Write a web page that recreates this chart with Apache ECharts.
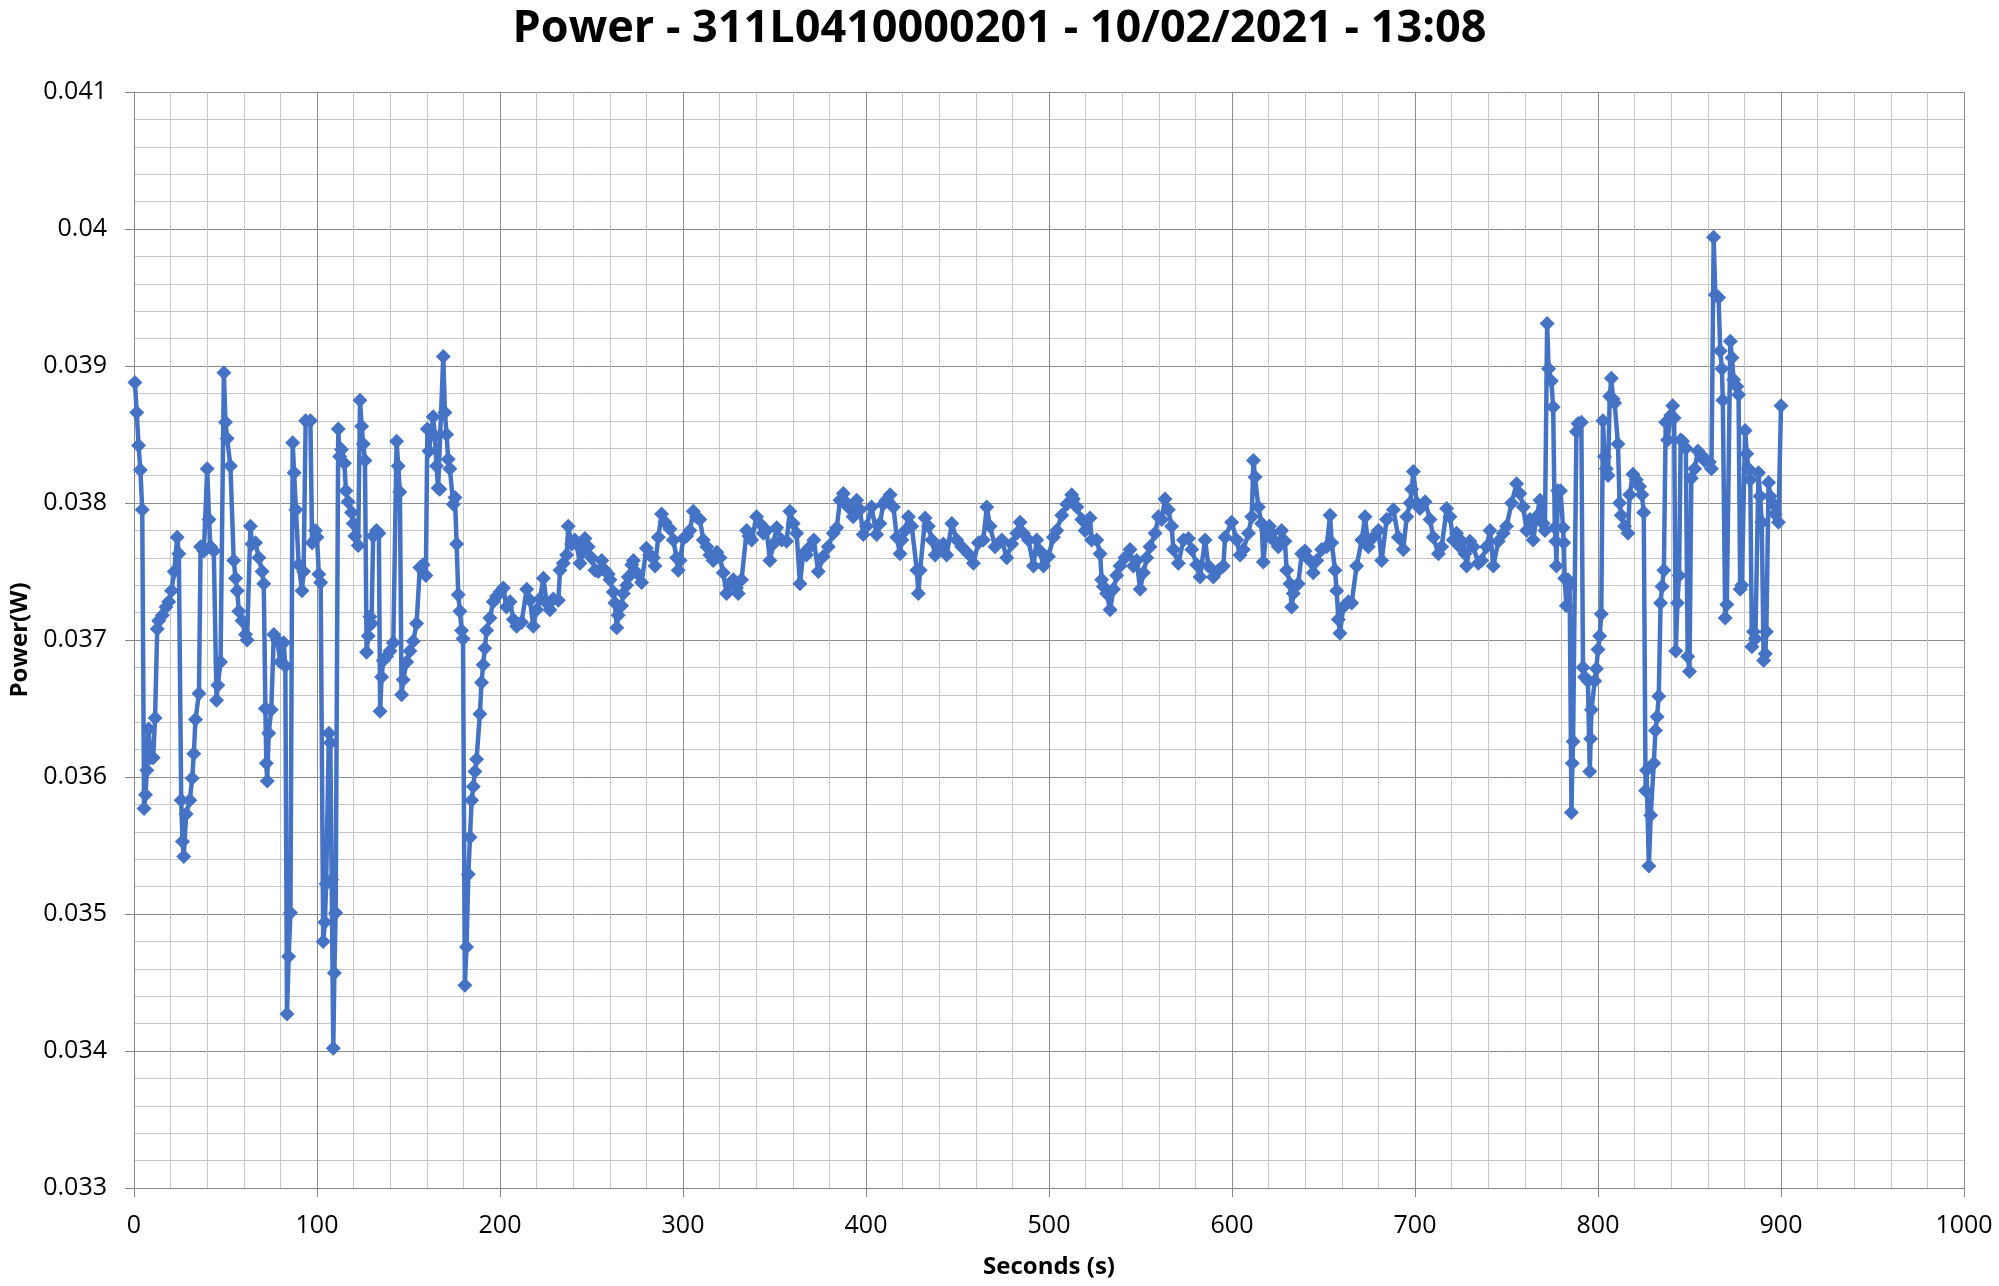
<!DOCTYPE html>
<html><head><meta charset="utf-8">
<script src="https://cdn.jsdelivr.net/npm/echarts@6/dist/echarts.min.js"></script>
<style>html,body{margin:0;padding:0;background:#fff}#c{width:1999px;height:1286px}</style>
</head><body><div id="c"></div>
<script>
const titleText = 'Power - 311L0410000201 - 10/02/2021 - 13:08';
const xAxisName = 'Seconds (s)';
const yAxisName = 'Power(W)';
const xRange = { min: 0, max: 1000, step: 100 };
const yRange = { min: 0.033, max: 0.041, step: 0.001 };

const seconds = [
0.5,1.5,2.5,3.5,4.5,5.5,6.3,7.0,8.0,9.0,10.5,11.5,12.7,13.5,15.5,17.5,19.0,20.5,22.0,23.6,24.5,25.8,26.5,27.2,28.5,30.5,31.8,32.7,33.6,35.5,36.4,38.2,40.0,41.0,41.8,43.6,45.1,45.8,47.3,49.1,50.0,50.9,52.7,54.5,55.5,56.4,57.3,59.1,60.9,61.8,63.6,64.5,66.4,68.2,70.0,70.9,71.8,72.3,72.8,73.6,75.0,76.4,78.2,80.0,81.8,82.7,83.6,84.5,85.5,86.7,87.5,88.5,90.0,91.8,92.7,93.8,96.4,97.3,99.1,100.0,101.0,102.0,
103.4,104.3,105.0,106.5,107.3,108.0,108.9,109.5,110.2,111.6,112.4,113.4,115.0,115.8,117.0,118.9,119.8,120.7,122.5,123.5,124.4,125.3,126.2,127.1,128.0,128.9,129.8,130.7,132.5,133.8,134.5,135.3,136.2,138.0,139.9,141.7,143.5,144.4,145.3,146.2,147.1,149.0,150.8,152.6,154.4,156.2,158.0,159.5,160.3,161.2,163.5,164.4,165.3,166.2,167.1,169.0,169.9,170.8,171.7,172.6,174.5,175.4,176.3,177.2,178.1,179.0,179.8,180.8,181.7,182.7,183.6,184.5,185.4,186.3,187.2,189.0,189.9,190.8,191.7,192.7,194.5,196.3,198.2,
200.0,201.8,203.6,205.5,207.3,209.1,211.8,214.6,216.4,218.2,220.0,221.8,223.7,225.5,227.3,229.1,231.9,232.8,234.6,236.4,237.3,239.1,240.9,241.8,243.7,245.5,246.4,248.2,250.0,251.9,253.7,255.6,257.4,259.2,260.1,261.9,262.8,263.8,264.6,266.4,267.4,269.2,270.1,272.0,272.9,274.7,277.4,280.0,281.8,283.8,284.7,286.5,288.3,290.2,292.9,294.7,296.5,297.4,298.4,300.2,302.0,303.8,
305.6,307.4,309.2,311.1,313.0,314.7,316.5,318.5,320.2,322.0,323.8,325.6,327.5,329.2,330.2,332.0,334.8,336.0,337.5,340.2,342.0,343.9,345.7,347.5,349.3,351.2,353.9,356.6,358.4,360.2,362.1,363.9,365.7,367.5,369.4,371.5,373.9,376.6,379.4,382.1,384.0,385.8,387.6,389.4,390.3,393.0,394.9,396.7,398.5,400.3,403.0,405.8,407.6,409.4,411.0,413.2,
415.0,416.8,418.6,419.6,421.4,423.2,425.0,427.8,428.6,429.6,432.3,434.1,436.0,437.8,440.5,442.3,444.1,446.9,449.6,452.3,455.9,458.7,461.4,464.1,466.0,467.8,470.5,474.2,476.9,479.6,482.4,484.2,486.0,488.8,491.5,493.3,495.1,497.0,499.7,502.4,504.2,507.0,509.7,512.4,513.3,515.2,
517.9,519.7,522.4,523.3,526.1,527.9,528.8,529.7,531.5,533.4,535.2,537.0,538.8,541.5,544.3,546.1,547.9,549.8,551.6,553.4,555.2,558.0,559.8,561.6,563.4,565.2,567.0,568.0,570.7,573.5,576.2,578.0,580.7,582.5,585.3,587.1,589.8,592.6,595.3,596.2,599.8,602.6,604.4,606.2,609.0,610.8,611.7,612.6,614.4,616.2,617.1,618.9,
620.5,621.7,622.6,625.3,627.1,628.9,629.9,631.7,632.6,633.5,636.2,638.1,639.9,642.6,644.4,646.3,649.0,651.7,653.6,654.5,656.3,657.2,658.1,659.0,660.8,663.6,665.4,668.1,670.9,672.7,674.5,677.2,680.0,681.8,684.5,688.2,690.9,693.6,695.5,697.3,698.2,699.1,700.9,702.7,705.5,708.2,710.0,712.8,714.6,717.3,719.1,720.9,722.7,
724.5,725.5,727.3,728.2,730.0,731.9,734.6,736.4,739.1,741.0,742.8,745.5,748.2,750.0,752.8,755.5,757.3,759.2,761.0,762.8,764.6,766.4,768.3,770.0,771.0,772.2,773.0,774.5,775.5,776.4,776.9,777.3,778.0,779.5,780.9,781.3,781.8,782.7,783.6,784.5,785.5,786.0,786.4,788.2,789.1,790.9,791.8,792.7,794.5,795.5,796.0,796.4,798.2,799.1,800.0,800.9,801.8,802.7,803.6,804.5,805.5,806.4,807.3,808.2,809.1,810.9,811.8,812.7,814.5,816.4,817.3,819.1,820.9,822.7,824.0,825.0,826.0,826.5,827.8,828.8,830.5,831.4,832.3,833.2,834.2,835.0,836.0,837.0,838.0,839.8,840.8,841.6,842.5,843.4,844.3,845.2,846.2,848.0,849.0,850.0,851.0,852.8,854.6,856.4,858.2,860.9,862.0,863.2,864.1,865.9,866.8,867.7,868.2,869.5,870.4,872.3,873.2,874.1,875.9,876.8,877.7,878.6,880.4,881.3,882.2,883.2,884.1,885.0,886.0,887.7,888.6,889.5,890.5,891.4,892.0,893.2,894.1,895.9,896.8,898.6,900.0
];

// power readings in milliwatts (converted to W for the axis)
const powerMilliwatt = [
38.88,38.66,38.42,38.24,37.95,35.77,35.87,36.05,36.35,36.14,36.14,36.43,37.08,37.14,37.18,37.24,37.28,37.36,37.50,37.75,37.63,35.83,35.53,35.42,35.73,35.83,35.99,36.17,36.42,36.61,37.68,37.65,38.25,37.88,37.68,37.65,36.56,36.67,36.84,38.95,38.59,38.47,38.27,37.58,37.45,37.36,37.21,37.14,37.04,37.00,37.83,37.70,37.71,37.60,37.50,37.41,36.50,36.10,35.97,36.32,36.49,37.04,37.00,36.84,36.98,36.81,34.27,34.69,35.01,38.44,38.22,37.95,37.55,37.36,37.50,38.60,38.60,37.71,37.80,37.75,37.48,37.42,
34.80,34.94,35.22,36.32,36.25,35.25,34.02,34.57,35.01,38.54,38.34,38.39,38.29,38.09,38.01,37.93,37.85,37.76,37.69,38.75,38.56,38.43,38.31,36.91,37.03,37.17,37.12,37.76,37.80,37.78,36.48,36.73,36.85,36.88,36.92,36.98,38.45,38.27,38.08,36.60,36.71,36.84,36.92,36.99,37.12,37.53,37.55,37.47,38.54,38.38,38.63,38.49,38.27,38.11,38.10,39.07,38.66,38.50,38.32,38.25,37.99,38.04,37.70,37.33,37.21,37.07,37.01,34.48,34.76,35.29,35.56,35.83,35.93,36.04,36.13,36.46,36.69,36.82,36.94,37.07,37.16,37.28,37.32,
37.35,37.38,37.24,37.28,37.15,37.10,37.13,37.37,37.29,37.10,37.22,37.30,37.45,37.27,37.22,37.30,37.29,37.51,37.56,37.62,37.83,37.70,37.73,37.70,37.56,37.65,37.74,37.68,37.60,37.51,37.50,37.58,37.51,37.48,37.44,37.35,37.27,37.09,37.18,37.25,37.34,37.40,37.46,37.55,37.58,37.49,37.42,37.67,37.62,37.60,37.54,37.75,37.92,37.86,37.81,37.73,37.60,37.51,37.58,37.74,37.76,37.80,
37.94,37.90,37.88,37.73,37.68,37.62,37.58,37.64,37.60,37.49,37.34,37.40,37.44,37.38,37.34,37.44,37.80,37.76,37.73,37.90,37.85,37.78,37.80,37.58,37.70,37.82,37.73,37.72,37.94,37.85,37.78,37.41,37.63,37.62,37.68,37.73,37.50,37.61,37.68,37.78,37.82,38.02,38.07,38.00,37.97,37.90,38.02,37.95,37.77,37.83,37.97,37.77,37.85,37.99,38.02,38.06,
37.97,37.75,37.63,37.73,37.80,37.90,37.83,37.51,37.34,37.51,37.89,37.83,37.73,37.62,37.68,37.70,37.62,37.85,37.73,37.68,37.63,37.56,37.71,37.73,37.97,37.83,37.68,37.73,37.60,37.70,37.78,37.86,37.78,37.73,37.54,37.73,37.65,37.54,37.61,37.75,37.80,37.91,37.99,38.06,38.03,37.97,
37.88,37.80,37.89,37.73,37.73,37.63,37.44,37.39,37.34,37.22,37.37,37.47,37.54,37.60,37.66,37.54,37.58,37.37,37.49,37.60,37.68,37.78,37.90,37.88,38.03,37.95,37.83,37.66,37.56,37.73,37.74,37.66,37.55,37.46,37.73,37.54,37.46,37.51,37.54,37.75,37.86,37.73,37.62,37.66,37.78,37.90,38.31,38.19,37.97,37.85,37.57,37.80,
37.83,37.78,37.73,37.68,37.80,37.72,37.51,37.41,37.24,37.34,37.41,37.63,37.65,37.58,37.49,37.58,37.66,37.68,37.91,37.71,37.51,37.36,37.15,37.05,37.24,37.28,37.27,37.54,37.73,37.90,37.68,37.75,37.80,37.58,37.88,37.95,37.75,37.66,37.90,38.00,38.10,38.23,38.00,37.96,38.01,37.88,37.75,37.63,37.68,37.96,37.90,37.73,37.78,
37.68,37.72,37.63,37.54,37.72,37.68,37.56,37.58,37.68,37.80,37.54,37.72,37.78,37.83,38.00,38.14,38.07,37.97,37.80,37.88,37.73,37.90,38.02,37.85,37.80,39.31,38.98,38.89,38.70,37.82,37.72,37.54,38.09,38.09,37.82,37.71,37.45,37.25,37.44,37.40,35.74,36.10,36.26,38.52,38.58,38.59,36.80,36.73,36.70,36.04,36.28,36.49,36.70,36.79,36.93,37.03,37.19,38.60,38.34,38.25,38.20,38.78,38.91,38.76,38.73,38.43,38.00,37.91,37.83,37.78,38.06,38.21,38.17,38.12,38.06,37.93,35.90,36.05,35.35,35.72,36.10,36.34,36.44,36.59,37.27,37.39,37.51,38.59,38.46,38.64,38.71,38.62,36.92,37.27,37.47,38.46,38.45,38.40,36.88,36.77,38.18,38.25,38.38,38.35,38.31,38.30,38.25,39.94,39.52,39.50,39.11,38.98,38.75,37.16,37.26,39.18,39.06,38.90,38.85,38.79,37.37,37.40,38.53,38.36,38.25,38.17,36.95,37.06,37.01,38.22,38.05,37.86,36.85,36.90,37.06,38.15,38.05,37.99,37.92,37.86,38.71
];

const FONT = 'Open Sans';
const LINE_COLOR = '#4472C4';
const points = seconds.map((s, i) => [s, powerMilliwatt[i] / 1000]);

const chart = echarts.init(document.getElementById('c'), null, { renderer: 'canvas' });
const axisCommon = {
  axisLine: { show: true, lineStyle: { color: '#868686', width: 1 } },
  axisTick: { show: true, length: 9, lineStyle: { color: '#868686', width: 1 } },
  splitLine: { show: true, lineStyle: { color: '#8c8c8c', width: 1 } },
  minorTick: { show: false, splitNumber: 5 },
  minorSplitLine: { show: true, lineStyle: { color: '#c6c6c6', width: 1 } },
  nameTextStyle: { fontFamily: FONT, fontWeight: 'bold', fontSize: 24, color: '#000' }
};
chart.setOption({
  animation: false,
  backgroundColor: '#fff',
  title: {
    text: titleText, left: 'center', top: 7, padding: 0,
    textStyle: { fontFamily: FONT, fontWeight: 'bold', fontSize: 45, color: '#000' }
  },
  grid: { left: 134, right: 35, top: 92, bottom: 98, containLabel: false, outerBoundsMode: 'none' },
  xAxis: Object.assign({}, axisCommon, {
    type: 'value', min: xRange.min, max: xRange.max, interval: xRange.step,
    name: xAxisName, nameLocation: 'middle', nameGap: 67,
    axisLabel: { fontFamily: FONT, fontSize: 25, color: '#000', margin: 25, formatter: v => String(v) }
  }),
  yAxis: Object.assign({}, axisCommon, {
    type: 'value', min: yRange.min, max: yRange.max, interval: yRange.step,
    name: yAxisName, nameLocation: 'middle', nameGap: 102, nameRotate: 90,
    axisLabel: {
      fontFamily: FONT, fontSize: 25, color: '#000', margin: 27,
      formatter: v => String(parseFloat(v.toFixed(3)))
    }
  }),
  series: [{
    type: 'line',
    data: points,
    symbol: 'diamond',
    symbolSize: 15,
    showSymbol: true,
    showAllSymbol: true,
    lineStyle: { color: LINE_COLOR, width: 4.5 },
    itemStyle: { color: LINE_COLOR },
    emphasis: { disabled: true },
    silent: true
  }]
});
</script>
</body></html>
